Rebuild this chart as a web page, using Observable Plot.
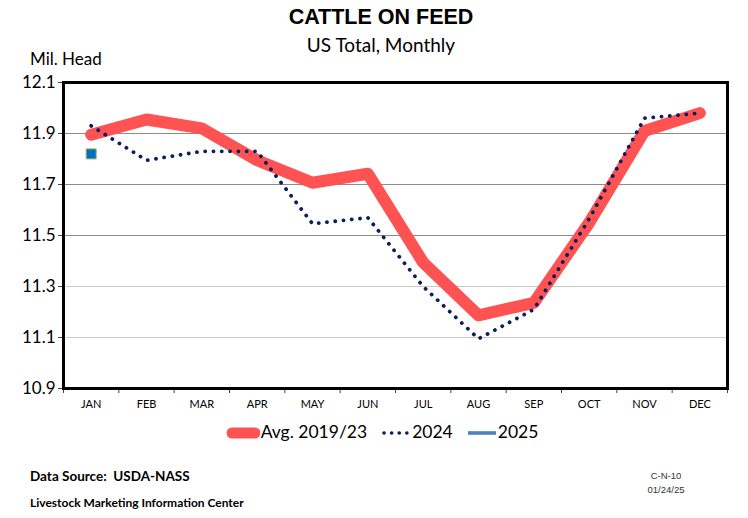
<!DOCTYPE html>
<html>
<head>
<meta charset="utf-8">
<script src="https://cdn.jsdelivr.net/npm/d3@7"></script>
<script src="https://cdn.jsdelivr.net/npm/@observablehq/plot@0.6"></script>
<style>
  html, body { margin: 0; padding: 0; background: #fff; }
  #wrap { position: relative; width: 748px; height: 518px; overflow: hidden; font-family: Lato, "Liberation Sans", sans-serif; }
  .abs { position: absolute; white-space: nowrap; }
  #title { left: 0; width: 762px; top: 5px; text-align: center; font-family: "Liberation Sans", Arial, sans-serif; font-weight: bold; font-size: 21.5px; color: #000; }
  #subtitle { left: 0; width: 762px; top: 33px; text-align: center; font-size: 19px; color: #000; }
  #ylab { left: 30px; top: 48px; font-size: 17px; color: #000; }
  #chart { left: 0; top: 0; }
  #legend { left: 0; width: 764px; top: 421px; text-align: center; font-size: 17.5px; color: #000; }
  #legend span.item { display: inline-block; margin: 0 7px; }
  #legend svg { vertical-align: -2px; margin-right: 1px; }
  #src { left: 30px; top: 468px; font-size: 13.5px; font-weight: bold; }
  #lmic { left: 30px; top: 495px; font-size: 12px; font-weight: bold; }
  #code { left: 636px; width: 60px; top: 469px; text-align: center; font-family: "Liberation Sans", Arial, sans-serif; font-size: 9.5px; color: #333; line-height: 14px; }
</style>
</head>
<body>
<div id="wrap">
  <div id="chart" class="abs"></div>
  <div id="title" class="abs">CATTLE ON FEED</div>
  <div id="subtitle" class="abs">US Total, Monthly</div>
  <div id="ylab" class="abs">Mil. Head</div>
  <div id="legend" class="abs"></div>
  <div id="src" class="abs">Data Source:&nbsp; USDA-NASS</div>
  <div id="lmic" class="abs">Livestock Marketing Information Center</div>
  <div id="code" class="abs">C-N-10<br>01/24/25</div>
</div>
<script>
const months = ["JAN","FEB","MAR","APR","MAY","JUN","JUL","AUG","SEP","OCT","NOV","DEC"];
const avg2019_23 = [11.895, 11.955, 11.92, 11.795, 11.707, 11.742, 11.394, 11.187, 11.236, 11.55, 11.91, 11.98];
const y2024 = [11.93, 11.795, 11.83, 11.83, 11.546, 11.57, 11.30, 11.095, 11.21, 11.565, 11.96, 11.98];
const y2025 = [11.82];
const yTicks = [10.9, 11.1, 11.3, 11.5, 11.7, 11.9, 12.1];
const seriesNames = ["Avg. 2019/23", "2024", "2025"];
const colors = {avg: "#ff5252", s2024: "#0c1f5c", s2025: "#4f81bd"};

const rows = (vals) => vals.map((v, i) => ({m: i + 1, v}));
const boundaries = d3.range(0.5, 13, 1);
const centers = d3.range(1, 13);

const chart = Plot.plot({
  width: 748,
  height: 418,
  marginTop: 82,
  marginLeft: 63,
  marginRight: 21,
  marginBottom: 30,
  style: {fontFamily: "Lato, 'Liberation Sans', sans-serif", color: "#000", background: "transparent"},
  x: {type: "linear", domain: [0.5, 12.5]},
  y: {domain: [10.9, 12.1]},
  marks: [
    Plot.ruleY(yTicks.slice(3, -1), {stroke: "#8c8c8c", strokeWidth: 1.2}),
    Plot.ruleY(yTicks.slice(1, 3), {stroke: "#c8c8c8", strokeWidth: 1.2}),
    Plot.axisY(yTicks, {tickSize: 5, tickPadding: 3, tickFormat: d3.format(".1f"), fontSize: 17, stroke: "#444", label: null}),
    Plot.axisX(boundaries, {tickSize: 5, tickFormat: () => "", stroke: "#444", label: null}),
    Plot.axisX(centers, {tickSize: 0, tickPadding: 12, tickFormat: (d) => months[d - 1], fontSize: 11, label: null}),
    Plot.line(rows(avg2019_23), {x: "m", y: "v", stroke: colors.avg, strokeWidth: 12, strokeLinecap: "round", strokeLinejoin: "round"}),
    Plot.line(rows(y2024), {x: "m", y: "v", stroke: colors.s2024, strokeWidth: 3.8, strokeDasharray: "0.1 8.2", strokeLinecap: "round"}),
    Plot.dot(rows(y2025), {x: "m", y: "v", symbol: "square", r: 5.6, fill: "#0070c0", stroke: "#8fae55", strokeWidth: 1}),
    Plot.frame({stroke: "#000", strokeWidth: 3})
  ]
});
document.getElementById("chart").appendChild(chart);

// legend
const legend = document.getElementById("legend");
const swatches = [
  `<svg width="34" height="14"><line x1="6" y1="7" x2="29" y2="7" stroke="${colors.avg}" stroke-width="11" stroke-linecap="round"/></svg>`,
  `<svg width="30" height="14"><line x1="3" y1="7" x2="28" y2="7" stroke="${colors.s2024}" stroke-width="3.6" stroke-dasharray="0.1 7.5" stroke-linecap="round"/></svg>`,
  `<svg width="30" height="14"><line x1="1" y1="7" x2="29" y2="7" stroke="${colors.s2025}" stroke-width="3.6"/></svg>`
];
legend.innerHTML = seriesNames.map((n, i) => `<span class="item">${swatches[i]}${n}</span>`).join("");
</script>
</body>
</html>
